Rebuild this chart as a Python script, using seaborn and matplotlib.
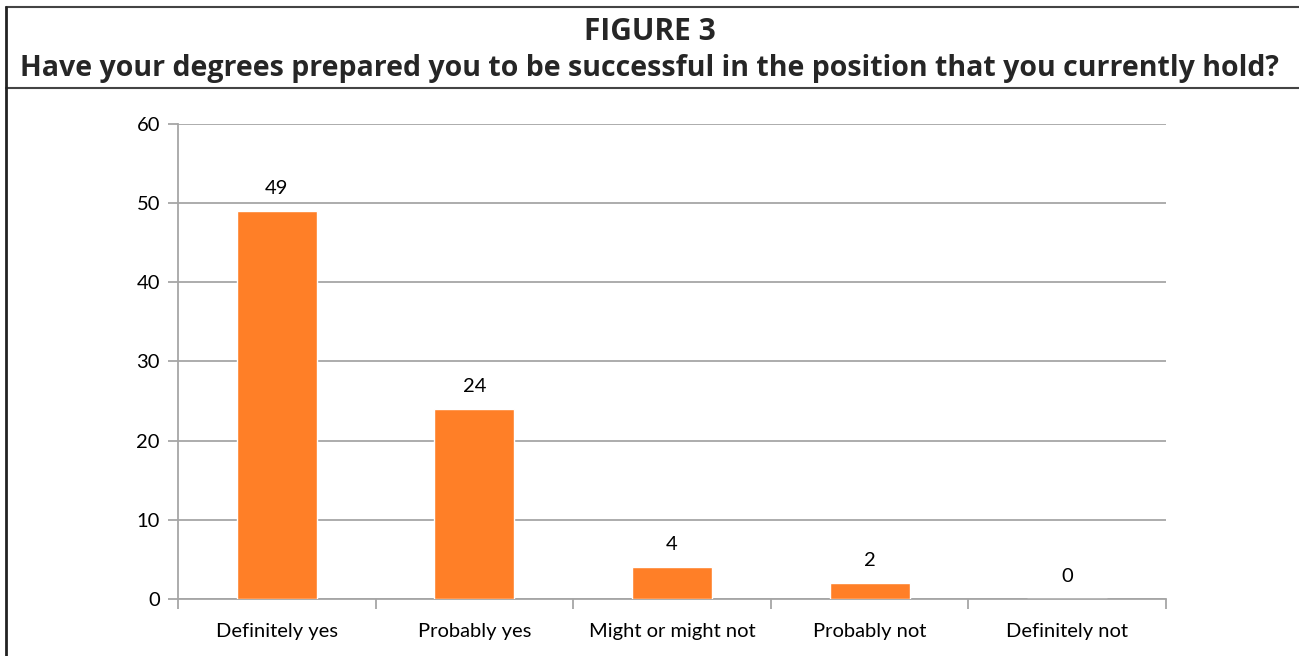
import matplotlib
matplotlib.use("Agg")
import matplotlib.pyplot as plt
import seaborn as sns
import pandas as pd
from matplotlib.lines import Line2D

categories = ["Definitely yes", "Probably yes", "Might or might not", "Probably not", "Definitely not"]
counts = [49, 24, 4, 2, 0]
y_ticks = [0, 10, 20, 30, 40, 50, 60]

bar_color = "#FF7F27"
grid_color = "#A6A6A6"

sns.set_theme(style="white")
plt.rcParams['font.family'] = ['Lato', 'DejaVu Sans']

df = pd.DataFrame({"answer": categories, "count": counts})

fig = plt.figure(figsize=(12.99, 6.56), dpi=100)
ax = fig.add_axes([0.1370, 0.0869, 0.7606, 0.7241])

sns.barplot(data=df, x="answer", y="count", color=bar_color, width=0.405,
            saturation=1, ax=ax, zorder=3)

ax.set_ylim(0, 60)
ax.set_xlim(-0.5, len(categories) - 0.5)
ax.set_yticks(y_ticks)
ax.yaxis.grid(True, color=grid_color, linewidth=1.3, zorder=0)
ax.set_xlabel("")
ax.set_ylabel("")

for s in ["top", "right"]:
    ax.spines[s].set_visible(False)
for s in ["left", "bottom"]:
    ax.spines[s].set_color(grid_color)
    ax.spines[s].set_linewidth(1.3)

# y ticks outward, category ticks at boundaries
ax.tick_params(axis="y", length=7, width=1.3, color=grid_color, direction="out",
               labelsize=14.5, pad=6, left=True, labelcolor="black")
ax.tick_params(axis="x", length=0, labelsize=14.5, pad=17, labelcolor="black")
ax.set_xticks([i - 0.5 for i in range(len(categories) + 1)], minor=True)
ax.tick_params(axis="x", which="minor", length=7, width=1.3, color=grid_color,
               direction="out", bottom=True)

for i, v in enumerate(counts):
    ax.text(i, v + 1.8, str(v), ha="center", va="bottom", fontsize=14.5, color="black")

# title box
fig.text(0.5, 0.951, "FIGURE 3", ha="center", va="center", fontsize=21.5,
         fontweight="bold", family=["Open Sans", "DejaVu Sans"])
fig.text(0.5, 0.896, "Have your degrees prepared you to be successful in the position that you currently hold?",
         ha="center", va="center", fontsize=20.5, fontweight="bold",
         family=["Open Sans", "DejaVu Sans"])

fig.add_artist(Line2D([0.0046, 1.0], [0.989, 0.989], color="#444444", linewidth=1.5,
                      transform=fig.transFigure))
fig.add_artist(Line2D([0.0046, 1.0], [0.866, 0.866], color="#444444", linewidth=1.5,
                      transform=fig.transFigure))
fig.add_artist(Line2D([0.0046, 0.0046], [0.0, 0.989], color="#222222", linewidth=2,
                      transform=fig.transFigure))

fig.savefig("out.png", dpi=100)
